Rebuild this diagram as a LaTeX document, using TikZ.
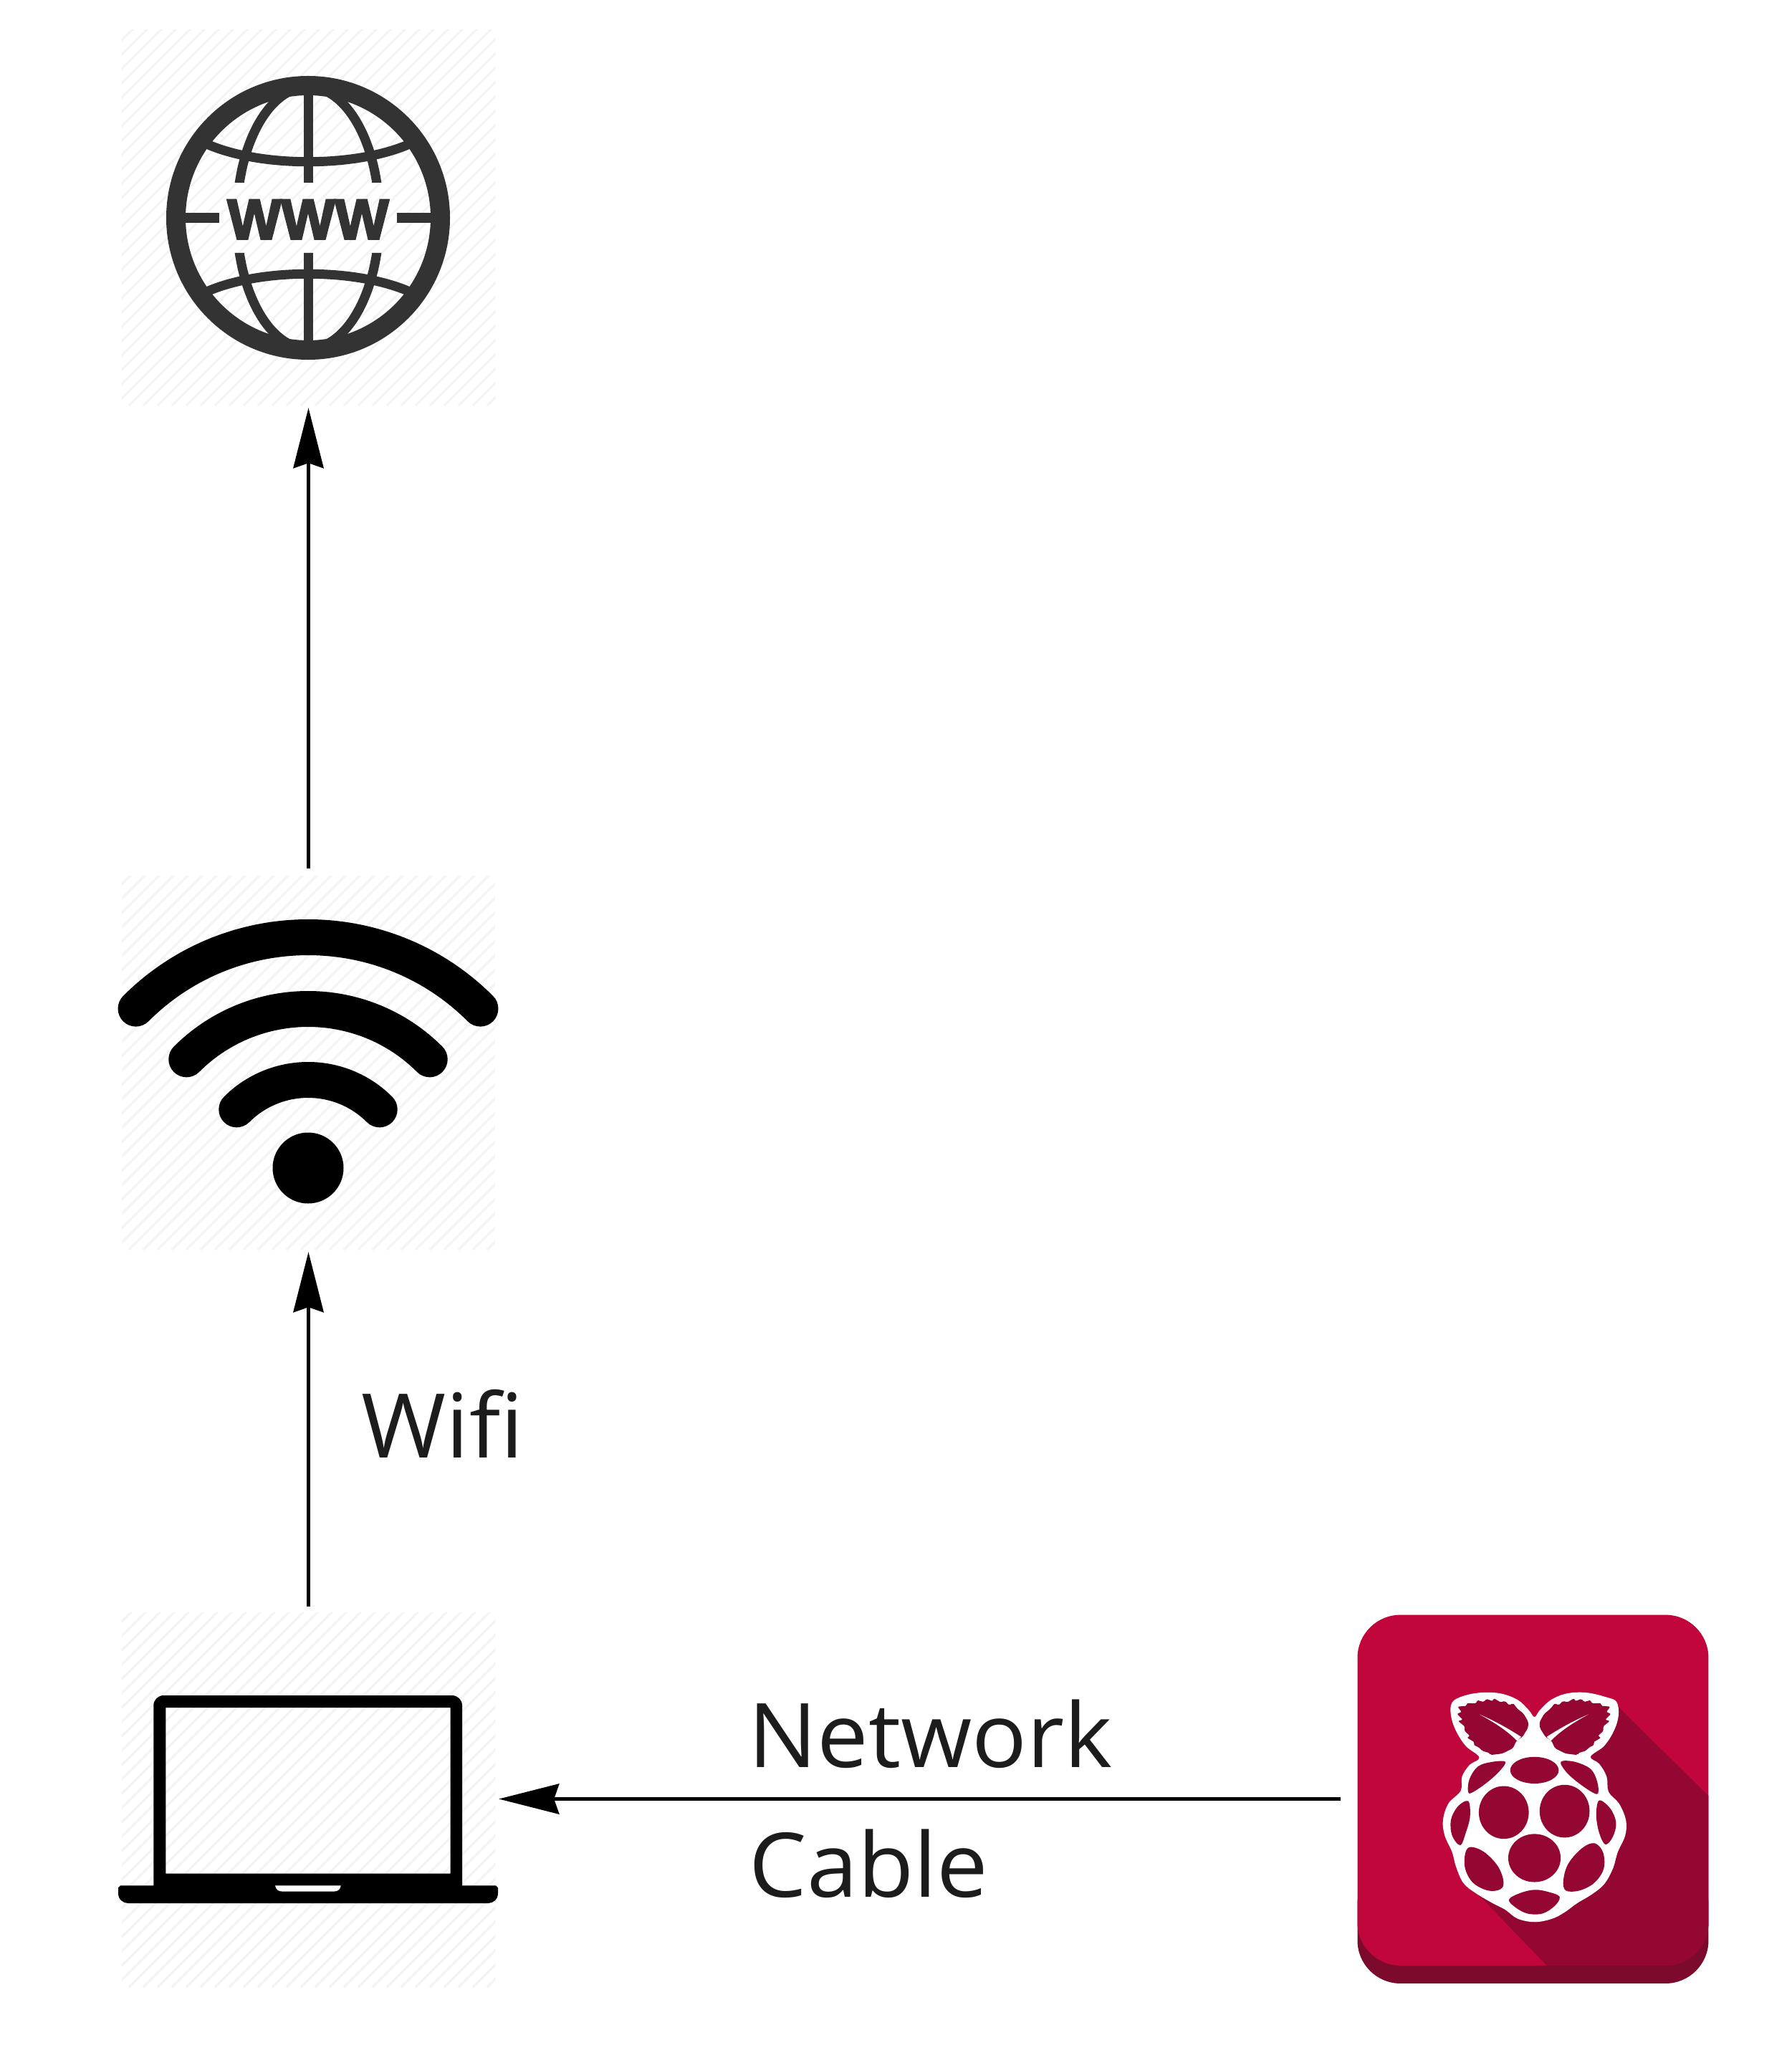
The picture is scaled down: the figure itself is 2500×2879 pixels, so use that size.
\documentclass[tikz,border=0pt]{standalone}
\usepackage{fontspec}
\setmainfont[FakeStretch=1.025]{Open Sans}
\newfontfamily\wwwfont[BoldFeatures={FakeBold=3.5}]{Liberation Sans}
\usetikzlibrary{arrows.meta}
\definecolor{globegrey}{HTML}{333333}
\definecolor{labelink}{HTML}{1C1C1C}
\definecolor{hatchgrey}{HTML}{F4F4F4}
\definecolor{pimain}{HTML}{C1063C}
\definecolor{pibase}{HTML}{7B0A2C}
\definecolor{pishade}{HTML}{950733}
\tikzset{
  hatchline/.style={draw=hatchgrey,line width=0.03cm},
  tile/.style={inner sep=0pt,minimum width=5.21cm,outer sep=0.05cm},
  link/.style={draw=black,line width=0.05cm,-{Stealth[length=0.84cm,width=0.42cm,inset=0.07cm]}},
  wifiarc/.style={draw=black,line width=0.5cm,line cap=round},
  globeline/.style={draw=globegrey,line width=0.13cm},
  labeltext/.style={anchor=base west,inner sep=0pt,text=labelink,font=\fontsize{35.4pt}{40pt}\selectfont},
  hole/.style={fill=pishade},
}
\newcommand{\tilehatch}[4]{%
  \begin{scope}
    \clip (#1,#2) rectangle (#3,#4);
    \foreach \d in {0,20,...,1060} {
      \draw[hatchline] ({#1+\d-530},#4) -- ++(530,-530);
    }
  \end{scope}}
\newcommand{\leafshape}{%
  \fill[pishade,rounded corners=0.02cm]
    (133,95) -- (172,92) -- (172,80) -- (212,82) -- (215,68) -- (245,76) -- (252,62) -- (280,72)
    -- (285,60) -- (315,78) -- (330,70) -- (350,90) -- (365,80) -- (385,105) -- (410,125)
    -- (430,160) -- (428,185) -- (405,222) -- (380,238) -- (365,270) -- (320,292) -- (270,298)
    -- (268,290) -- (235,280) -- (225,268) -- (200,255) -- (205,245) -- (172,225) -- (185,218)
    -- (160,195) -- (165,180) -- (135,155) -- (155,150) -- (130,125) -- (150,118) -- cycle;
  \fill[white] (225,128) .. controls (290,155) and (350,190) .. (400,222) -- (382,238)
    .. controls (340,195) and (285,160) .. (225,128) -- cycle;}
\begin{document}
\begin{tikzpicture}[x=0.01cm,y=-0.01cm]
\useasboundingbox (0,0) rectangle (2500,2879);
\fill[white] (0,0) rectangle (2500,2879);

% hatched tiles
\tilehatch{170}{42}{691}{566}
\tilehatch{170}{1222}{691}{1744}
\tilehatch{170}{2250}{691}{2773}

% anchor nodes for connectors
\node[tile,minimum height=5.24cm] (globe) at (430.5,302) {};
\node[tile,minimum height=5.25cm] (wifi) at (430.5,1479.5) {};
\node[tile,minimum height=5.26cm] (laptop) at (430.5,2510.5) {};
\node[inner sep=0pt,minimum width=4.90cm,minimum height=5.14cm,outer sep=0.23cm] (pi) at (2139,2510.5) {};

% globe
\begin{scope}[shift={(430,304)}]
  \begin{scope}
    \clip (-200,-185) rectangle (200,-49) (-200,49) rectangle (200,185);
    \draw[globeline] (0,0) ellipse [x radius=99.4,y radius=182.6];
    \draw[globeline] (0,-190) -- (0,190);
  \end{scope}
  \draw[globeline] (-185,0) -- (-124,0) (124,0) -- (185,0);
  \draw[globeline] (-148,-106) .. controls (-72,-69) and (72,-69) .. (148,-106);
  \draw[globeline] (-148,106) .. controls (-72,69) and (72,69) .. (148,106);
  \draw[draw=globegrey,line width=0.27cm] (0,0) circle [radius=184.5];
  \node[anchor=base,inner sep=0pt,text=globegrey,font=\wwwfont\bfseries\fontsize{22.6pt}{24pt}\selectfont] (wwwlabel) at (0,29.6) {WWW};
\end{scope}

% wifi
\coordinate (wc) at (430,1648);
\draw[wifiarc] (wc) ++(-135:340) arc [start angle=-135,end angle=-45,radius=340];
\draw[wifiarc] (wc) ++(-135:240) arc [start angle=-135,end angle=-45,radius=240];
\draw[wifiarc] (wc) ++(-135:141) arc [start angle=-135,end angle=-45,radius=141];
\fill[black] (430,1630) circle [radius=49.5];

% laptop
\fill[black,even odd rule,rounded corners=0.14cm]
  (214.3,2645) -- (214.3,2366) -- (645,2366) -- (645,2645) -- cycle
  [sharp corners] (231.4,2383) rectangle (628.6,2614.6);
\fill[black] (168,2631.4) -- (692,2631.4) -- (695,2634.4) -- (695,2642)
  .. controls (695,2651) and (688,2656) .. (681,2656) -- (179,2656)
  .. controls (172,2656) and (165,2651) .. (165,2642) -- (165,2634.4) -- cycle;
\fill[white] (384,2631.4) -- (475.7,2631.4) .. controls (475,2637) and (471,2639.6) .. (466,2639.6)
  -- (394,2639.6) .. controls (389,2639.6) and (385,2637) .. (384,2631.4) -- cycle;

% raspberry pi icon (coordinates as measured on a stretched crop)
\begin{scope}[shift={(1880,2240)},x=0.0034435cm,y=-0.0035714cm]
  \fill[pibase,rounded corners=0.6cm] (42,1000) rectangle (1462,1478);
  \fill[pimain,rounded corners=0.6cm] (42,38) rectangle (1462,1408);
  \begin{scope}
    \clip[rounded corners=0.6cm] (42,38) rectangle (1462,1408);
    \fill[pishade] (1095,395) -- (1462,745) -- (1520,745) -- (1520,1500) -- (900,1500) -- (808,1408) -- (530,1130) -- cycle;
  \end{scope}
  \fill[white] plot[smooth cycle,tension=0.6] coordinates {
    (425,380) (470,355) (540,342) (620,345) (690,370) (735,410) (758,437) (780,410) (825,370)
    (890,345) (970,342) (1050,360) (1090,378) (1098,430) (1080,490) (1040,550) (985,592)
    (1020,620) (1050,670) (1058,730) (1100,775) (1128,840) (1125,900) (1095,965) (1075,1030)
    (1040,1090) (990,1130) (930,1165) (880,1200) (830,1225) (760,1238) (690,1225) (640,1190)
    (590,1165) (520,1125) (470,1085) (440,1020) (425,965) (395,900) (388,840) (410,775)
    (460,725) (465,670) (495,625) (535,595) (480,550) (440,490) (420,430)};
  \fill[hole] (758,645) ellipse [x radius=98,y radius=52];
  \fill[hole] plot[smooth cycle,tension=0.6] coordinates {(640,612) (590,612) (530,630) (495,680) (490,730) (510,730) (570,690) (620,645)};
  \fill[hole] plot[smooth cycle,tension=0.6] coordinates {(865,612) (920,612) (985,640) (1012,690) (1015,735) (990,730) (930,690) (885,650)};
  \fill[hole] (634,810) ellipse [x radius=101,y radius=103];
  \fill[hole] (880,805) ellipse [x radius=101,y radius=103];
  \fill[hole] plot[smooth cycle,tension=0.6] coordinates {(480,765) (445,790) (420,840) (425,900) (458,938) (480,890) (497,830) (495,775)};
  \fill[hole] plot[smooth cycle,tension=0.6] coordinates {(1020,763) (1065,795) (1088,850) (1075,905) (1045,935) (1020,890) (1008,820)};
  \fill[hole] (758,988) ellipse [x radius=106,y radius=94];
  \fill[hole] plot[smooth cycle,tension=0.6] coordinates {(500,945) (555,965) (610,1020) (633,1080) (620,1110) (570,1115) (510,1085) (478,1030) (478,970)};
  \fill[hole] plot[smooth cycle,tension=0.6] coordinates {(1000,930) (1035,965) (1038,1030) (1000,1085) (940,1115) (885,1115) (875,1075) (895,1010) (950,950)};
  \fill[hole] plot[smooth cycle,tension=0.6] coordinates {(655,1150) (700,1125) (760,1112) (820,1122) (860,1140) (840,1175) (790,1205) (730,1205) (680,1180)};
\end{scope}
\begin{scope}[shift={(1990,2350)},x=0.003333cm,y=-0.003333cm]
  \leafshape
\end{scope}
\begin{scope}[shift={(2291.67,2350)},x=-0.003333cm,y=-0.003333cm]
  \leafshape
\end{scope}

% connectors
\draw[link] (wifi.north) -- (globe.south);
\draw[link] (laptop.north) -- (wifi.south);
\draw[link] (pi.west) -- (laptop.east);

% labels
\node[labeltext] (wifilabel) at (504,2034) {Wifi};
\node[labeltext] (networklabel) at (1044,2466) {Network};
\node[labeltext] (cablelabel) at (1045,2647) {Cable};
\end{tikzpicture}
\end{document}
